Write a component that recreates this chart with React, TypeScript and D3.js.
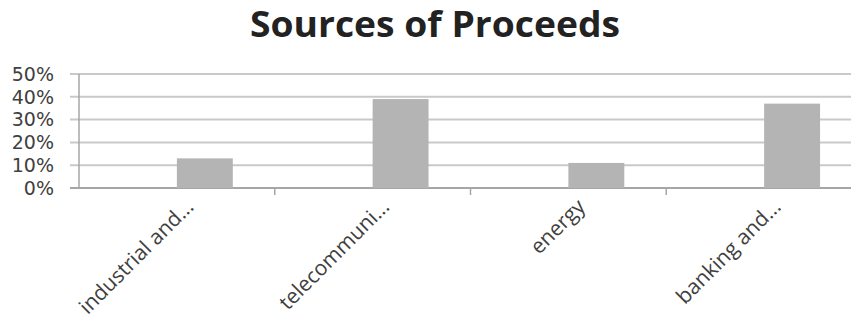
import * as d3 from "d3";

const categories = ["industrial and...", "telecommuni...", "energy", "banking and..."];
const shares = [13, 39, 11, 37];
const yTicks = [0, 10, 20, 30, 40, 50];
// Excel clustered layout: an empty first series sits before the drawn one
const seriesSlots = ["blank", "share"];

const width = 851;
const height = 320;
const margin = { top: 74, right: -11, bottom: 132, left: 79 };

export default function App(): JSX.Element {
  const plotBottom = height - margin.bottom;

  const xScale = d3
    .scaleBand<string>()
    .domain(categories)
    .range([margin.left, width - margin.right])
    .padding(0);

  const slotScale = d3
    .scaleBand<string>()
    .domain(seriesSlots)
    .range([0, xScale.bandwidth()])
    .paddingInner(0)
    .paddingOuter(0.75);

  const yScale = d3
    .scaleLinear()
    .domain([0, 50])
    .range([plotBottom, margin.top]);

  const font = "'Open Sans', sans-serif";
  const textColor = "#404040";
  const gridColor = "#c9c9c9";
  const axisColor = "#a6a6a6";

  const tickEdges = categories.map((c) => xScale(c)!);

  return (
    <div style={{ position: "absolute", left: 0, top: 0 }}>
      <svg width={width} height={height} style={{ display: "block", background: "#fff" }}>
        <text
          x={435}
          y={37}
          textAnchor="middle"
          fontFamily={font}
          fontWeight={700}
          fontSize={35}
          fill="#222"
          textLength={370}
          lengthAdjust="spacingAndGlyphs"
        >
          Sources of Proceeds
        </text>

        {/* gridlines with outside tick stubs */}
        {yTicks.map((t) => (
          <line
            key={`g${t}`}
            x1={margin.left - 9}
            x2={width - margin.right}
            y1={yScale(t)}
            y2={yScale(t)}
            stroke={t === 0 ? axisColor : gridColor}
            strokeWidth={2}
          />
        ))}

        <line
          x1={margin.left}
          x2={margin.left}
          y1={yScale(50)}
          y2={plotBottom}
          stroke={axisColor}
          strokeWidth={1.5}
        />

        {tickEdges.slice(1).map((x, i) => (
          <line
            key={`xt${i}`}
            x1={x}
            x2={x}
            y1={plotBottom}
            y2={plotBottom + 7}
            stroke={axisColor}
            strokeWidth={1.5}
          />
        ))}

        {yTicks.map((t) => (
          <text
            key={`yl${t}`}
            x={54}
            y={yScale(t)}
            dy="0.36em"
            textAnchor="end"
            fontFamily="'DejaVu Sans', sans-serif"
            fontSize={19}
            fill={textColor}
          >
            {`${t}%`}
          </text>
        ))}

        {categories.map((c, i) => (
          <rect
            key={`b${c}`}
            x={xScale(c)! + slotScale("share")!}
            y={yScale(shares[i])}
            width={slotScale.bandwidth()}
            height={plotBottom - yScale(shares[i])}
            fill="#b4b4b4"
          />
        ))}

        {categories.map((c) => {
          const cx = xScale(c)! + xScale.bandwidth() / 2 + 18;
          const cy = plotBottom + 20;
          return (
            <text
              key={`xl${c}`}
              transform={`translate(${cx},${cy}) rotate(-45)`}
              textAnchor="end"
              fontFamily={font}
              fontSize={21}
              fill={textColor}
            >
              {c}
            </text>
          );
        })}
      </svg>
    </div>
  );
}
